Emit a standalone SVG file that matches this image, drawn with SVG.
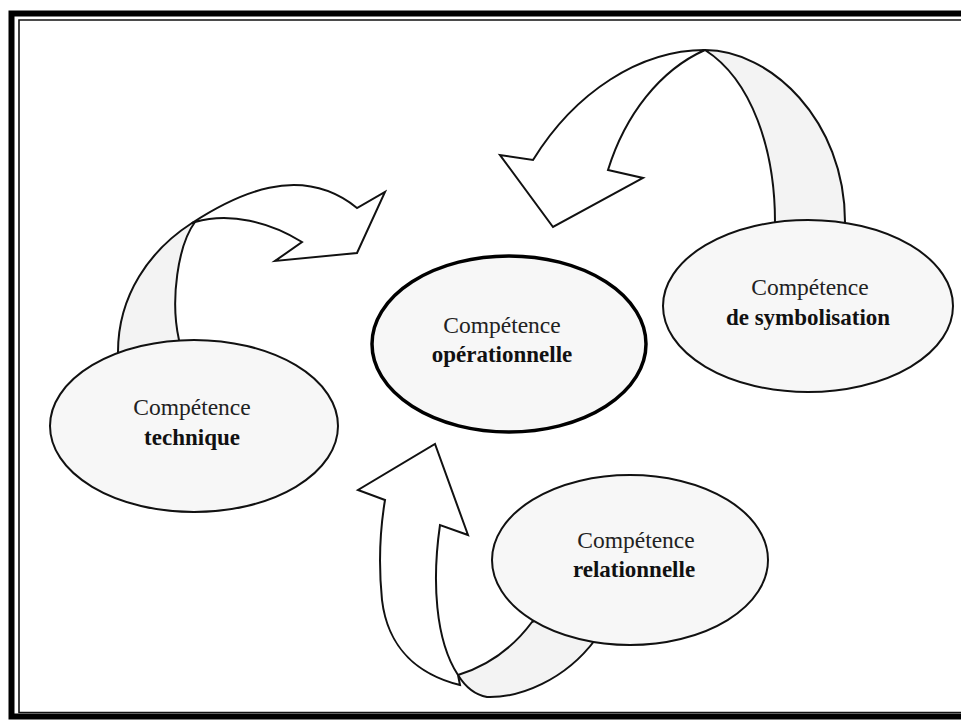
<svg xmlns="http://www.w3.org/2000/svg" width="961" height="722" viewBox="0 0 961 722">
  <style>
    .frame-thick { fill: none; stroke: #000; }
    .frame-thin { fill: none; stroke: #111; stroke-width: 1.6; }
    .ribbon { fill: #fff; stroke: #111; stroke-width: 2; stroke-linejoin: miter; }
    .ribbon-back { fill: #f3f3f3; stroke: #111; stroke-width: 2; }
    .node { fill: #f7f7f7; stroke: #111; stroke-width: 2; }
    .node-main { fill: #f7f7f7; stroke: #000; stroke-width: 3.5; }
    .label { font-family: "Liberation Serif", "Times New Roman", serif; font-size: 23.5px; fill: #222; text-anchor: middle; }
    .label-b { font-weight: bold; font-size: 23px; fill: #111; }
  </style>

  <rect x="0" y="0" width="961" height="722" fill="#fff"/>

  <!-- double border, open on the right -->
  <g id="frame">
    <path class="frame-thick" d="M961,13.5 H11.5 V716.5 H961" stroke-width="6"/>
    <path class="frame-thin" d="M961,20 H19 V712.5 H961"/>
  </g>

  <g id="connectors">
    <!-- technique -> operationnelle -->
    <g id="arrow-technique">
      <path class="ribbon-back" d="M118,352 C118,295 150,250 192,223 L195,222 C178,245 170,300 179,340 L150,380 Z"/>
      <path class="ribbon" d="M192,223 C235,195 300,162 357,208 L385,192 L357,253 L275,261 L302,242 C270,222 230,212 195,222 Z"/>
    </g>
    <!-- symbolisation -> operationnelle -->
    <g id="arrow-symbolisation">
      <path class="ribbon-back" d="M705,50 C770,50 845,120 845,222 L810,260 L775,222 C775,150 752,80 705,50 Z"/>
      <path class="ribbon" d="M705,50 C640,50 575,92 533,160 L500,155 L553,227 L643,178 L608,170 C625,115 660,70 705,50 Z"/>
    </g>
    <!-- relationnelle -> operationnelle -->
    <g id="arrow-relationnelle">
      <path class="ribbon-back" d="M458,675 C466,688 476,695 487,697 C520,698 565,680 595,640 L580,600 L532,622 C515,645 490,665 458,675 Z"/>
      <path class="ribbon" d="M385,500 L358,490 L435,444 L468,535 L440,525 C432,580 435,640 458,675 L460,685 C420,675 388,650 382,600 C378,560 380,530 385,500 Z"/>
    </g>
  </g>

  <g id="node-technique">
    <ellipse class="node" cx="194" cy="426" rx="144" ry="86"/>
    <text class="label" x="192" y="415">Compétence</text>
    <text class="label label-b" x="192" y="445">technique</text>
  </g>

  <g id="node-operationnelle">
    <ellipse class="node-main" cx="509" cy="344" rx="137" ry="88"/>
    <text class="label" x="502" y="333">Compétence</text>
    <text class="label label-b" x="502" y="362">opérationnelle</text>
  </g>

  <g id="node-symbolisation">
    <ellipse class="node" cx="808" cy="306" rx="145" ry="86"/>
    <text class="label" x="810" y="295">Compétence</text>
    <text class="label label-b" x="808" y="325">de symbolisation</text>
  </g>

  <g id="node-relationnelle">
    <ellipse class="node" cx="630" cy="560" rx="138" ry="85"/>
    <text class="label" x="636" y="548">Compétence</text>
    <text class="label label-b" x="634" y="577">relationnelle</text>
  </g>
</svg>
